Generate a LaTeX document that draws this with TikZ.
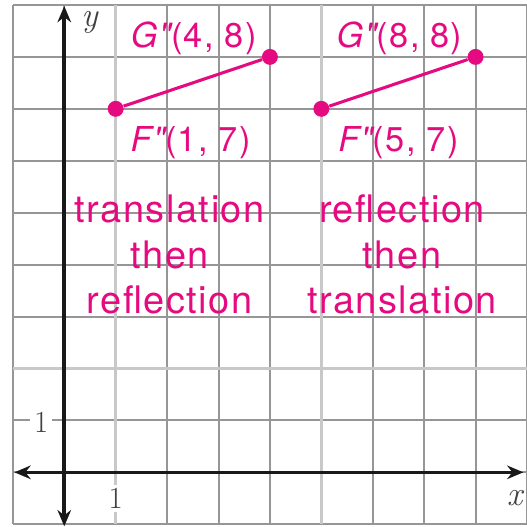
\documentclass[tikz,border=0pt]{standalone}
\usepackage{fontspec}
\setsansfont{TeX Gyre Heros}
\newfontfamily\labfont[LetterSpace=4]{TeX Gyre Heros}
\usetikzlibrary{arrows.meta}
\definecolor{mag}{RGB}{230,10,128}
\definecolor{gridgray}{RGB}{150,150,150}
\definecolor{gridlight}{RGB}{200,200,200}
\begin{document}
\begin{tikzpicture}[x=1cm,y=1.01cm,
  gridline/.style={draw=gridgray, line width=1.1pt},
  lightline/.style={draw=gridlight, line width=1.7pt},
  axis/.style={line width=2pt, draw=black!90, {Stealth[length=9pt,width=7.5pt]}-{Stealth[length=9pt,width=7.5pt]}},
  dot/.style={circle, fill=mag, inner sep=0pt, minimum size=0.31cm},
  seg/.style={draw=mag, line width=1.7pt},
  lab/.style={text=mag, font=\labfont\fontsize{19}{22}\selectfont, anchor=base, inner sep=0pt},
  desc/.style={text=mag, font=\labfont\fontsize{21}{25}\selectfont, anchor=base, inner sep=0pt},
  axlab/.style={font=\itshape\fontsize{19}{22}\selectfont, text=black!75, inner sep=1pt},
  ticklab/.style={font=\fontsize{17}{20}\selectfont, text=black!75, fill=white, inner sep=2pt}
]
\useasboundingbox (-1.25,-1.053) rectangle (9.0,9.096);
% grid
\foreach \i in {-1,0,2,3,4,6,7,8,9} \draw[gridline] (\i,-1) -- (\i,9);
\foreach \j in {-1,0,1,3,4,5,6,7,8,9} \draw[gridline] (-1,\j) -- (9,\j);
\foreach \i in {1,5} \draw[lightline] (\i,-1) -- (\i,9);
\draw[lightline] (-1,2) -- (9,2);
% tick labels
\node[ticklab] (onex) at (1,-0.5) {1};
\node[ticklab] (oney) at (-0.45,0.97) {1};
% axes
\coordinate (xl) at (-0.97,0);
\coordinate (xr) at (8.93,0);
\coordinate (yb) at (0,-1.04);
\coordinate (yt) at (0,8.98);
\draw[axis] (xl) -- (xr);
\draw[axis] (yb) -- (yt);
\node[axlab] (ylab) at (0.49,8.67) {y};
\node[axlab] (xlab) at (8.76,-0.5) {x};
% segments
\node[dot] (F1) at (1,7) {};
\node[dot] (G1) at (4,8) {};
\node[dot] (F2) at (5,7) {};
\node[dot] (G2) at (8,8) {};
\draw[seg] (F1) -- (G1);
\draw[seg] (F2) -- (G2);
% point labels
\node[lab] (G1lab) at (2.52,8.19) {{\itshape G"}(4, 8)};
\node[lab] (F1lab) at (2.46,6.17) {{\itshape F"}(1, 7)};
\node[lab] (G2lab) at (6.52,8.19) {{\itshape G"}(8, 8)};
\node[lab] (F2lab) at (6.5,6.17) {{\itshape F"}(5, 7)};
% descriptions
\node[desc] (L1) at (2.05,4.82) {translation};
\node[desc] (L2) at (2.05,3.93) {then};
\node[desc] (L3) at (2.05,3.06) {reflection};
\node[desc] (R1) at (6.57,4.82) {reflection};
\node[desc] (R2) at (6.57,3.93) {then};
\node[desc] (R3) at (6.57,3.06) {translation};
\end{tikzpicture}
\end{document}
